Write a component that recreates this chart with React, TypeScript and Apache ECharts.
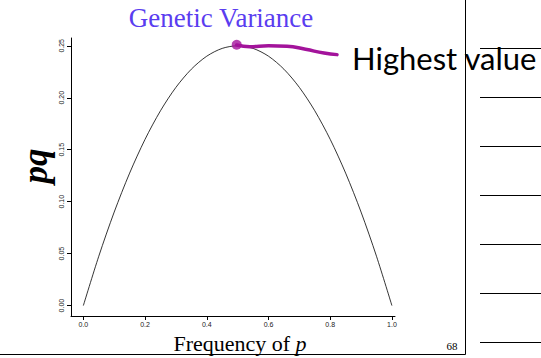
import React, { useEffect, useRef } from "react";
import * as echarts from "echarts";

// Curve pq (p from 0 to 1)
const pValues = [0, 0.05, 0.1, 0.15, 0.2, 0.25, 0.3, 0.35, 0.4, 0.45, 0.5, 0.55, 0.6, 0.65, 0.7, 0.75, 0.8, 0.85, 0.9, 0.95, 1.0];
const pqValues = [0, 0.0475, 0.09, 0.1275, 0.16, 0.1875, 0.21, 0.2275, 0.24, 0.2475, 0.25, 0.2475, 0.24, 0.2275, 0.21, 0.1875, 0.16, 0.1275, 0.09, 0.0475, 0];

// Hand-drawn magenta highlight stroke (in data units)
const highlightP = [0.497, 0.54, 0.6, 0.66, 0.72, 0.78, 0.822];
const highlightY = [0.2508, 0.2492, 0.25, 0.2496, 0.2466, 0.243, 0.2415];
const peakPoint = [0.497, 0.251];

const xTicks = [0, 0.2, 0.4, 0.6, 0.8, 1.0];
const yTicks = [0, 0.05, 0.1, 0.15, 0.2, 0.25];

const titleText = "Genetic Variance";
const annotationText = "Highest value";
const pageNumber = "68";
const rightRuleYs = [48, 97, 146, 195, 244, 293, 342];

export default function App() {
  const ref = useRef<HTMLDivElement>(null);
  useEffect(() => {
    if (!ref.current) return;
    const chart = echarts.init(ref.current, undefined, { renderer: "svg" });
    const magenta = "#a3139b";
    const graphics: any[] = [
      {
        type: "text",
        x: 221,
        y: 18,
        style: {
          text: titleText,
          fill: "#5a3df0",
          font: '27px "Liberation Serif"',
          align: "center",
          verticalAlign: "middle",
        },
      },
      {
        type: "text",
        x: 35,
        y: 166,
        rotation: Math.PI / 2,
        style: {
          text: "pq",
          fill: "#000",
          font: 'italic bold 35px "Liberation Serif"',
          align: "center",
          verticalAlign: "middle",
        },
      },
      {
        type: "text",
        x: 240,
        y: 343,
        style: {
          rich: {
            n: { font: '22px "Liberation Serif"', fill: "#000" },
            i: { font: 'italic 22px "Liberation Serif"', fill: "#000" },
          },
          text: "{n|Frequency of }{i|p}",
          align: "center",
          verticalAlign: "middle",
        },
      },
      {
        type: "text",
        x: 452,
        y: 346,
        style: {
          text: pageNumber,
          fill: "#000",
          font: '11px "Liberation Serif"',
          align: "center",
          verticalAlign: "middle",
        },
      },
      {
        type: "line",
        shape: { x1: 465.5, y1: 0, x2: 465.5, y2: 354.5 },
        style: { stroke: "#000", lineWidth: 1 },
      },
      {
        type: "line",
        shape: { x1: 0, y1: 354.5, x2: 465.5, y2: 354.5 },
        style: { stroke: "#000", lineWidth: 1 },
      },
      ...rightRuleYs.map((y) => ({
        type: "line",
        shape: { x1: 480, y1: y + 0.5, x2: 541, y2: y + 0.5 },
        style: { stroke: "#000", lineWidth: 1 },
      })),
      {
        type: "text",
        x: 352,
        y: 58,
        z: 100,
        style: {
          text: annotationText,
          fill: "#000",
          font: '31px Lato',
          align: "left",
          verticalAlign: "middle",
        },
      },
    ];

    chart.setOption({
      animation: false,
      backgroundColor: "#fff",
      grid: { left: 71, right: 146, top: 38, bottom: 42, containLabel: false },
      xAxis: {
        type: "value",
        min: -0.04,
        max: 1.01,
        splitLine: { show: false },
        axisLine: { show: true, onZero: false, lineStyle: { color: "#000", width: 1 } },
        axisTick: { show: true, length: 4, customValues: xTicks, lineStyle: { color: "#000" } },
        axisLabel: {
          customValues: xTicks,
          margin: 5,
          fontSize: 7,
          fontFamily: "Liberation Sans",
          color: "#222",
          formatter: (v: number) => v.toFixed(1),
        },
      },
      yAxis: {
        type: "value",
        min: -0.01,
        max: 0.2575,
        splitLine: { show: false },
        axisLine: { show: true, onZero: false, lineStyle: { color: "#000", width: 1 } },
        axisTick: { show: true, length: 4, customValues: yTicks, lineStyle: { color: "#000" } },
        axisLabel: {
          customValues: yTicks,
          margin: 6,
          rotate: 90,
          fontSize: 7,
          fontFamily: "Liberation Sans",
          color: "#222",
          formatter: (v: number) => v.toFixed(2),
        },
      },
      series: [
        {
          type: "line",
          data: pValues.map((p, i) => [p, pqValues[i]]),
          smooth: 0.3,
          showSymbol: false,
          lineStyle: { color: "#000", width: 0.8 },
        },
        {
          type: "line",
          data: highlightP.map((p, i) => [p, highlightY[i]]),
          smooth: 0.5,
          showSymbol: false,
          lineStyle: { color: magenta, width: 3.5, cap: "round" },
          z: 5,
        },
        {
          type: "scatter",
          data: [peakPoint],
          symbolSize: 10,
          itemStyle: { color: magenta },
          z: 6,
        },
      ],
      graphic: graphics,
    });
    return () => chart.dispose();
  }, []);
  return (
    <div
      ref={ref}
      style={{ position: "absolute", left: 0, top: 0, width: 541, height: 358 }}
    />
  );
}
